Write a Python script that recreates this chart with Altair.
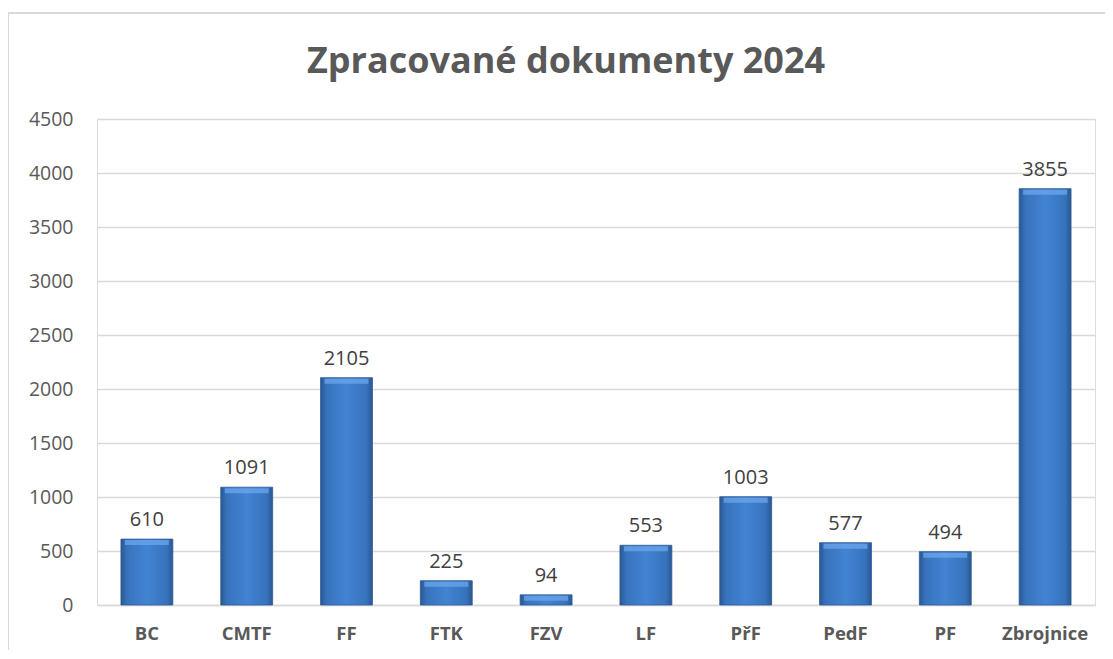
import altair as alt
import pandas as pd

categories = ["BC", "CMTF", "FF", "FTK", "FZV", "LF", "PřF", "PedF", "PF", "Zbrojnice"]
values = [610, 1091, 2105, 225, 94, 553, 1003, 577, 494, 3855]
y_ticks = [0, 500, 1000, 1500, 2000, 2500, 3000, 3500, 4000, 4500]
title_text = "Zpracované dokumenty 2024"

df = pd.DataFrame({"cat": categories, "val": values})

W, H = 998, 486
gray = "#595959"

x_enc = alt.X("cat:N", sort=categories, title=None,
              scale=alt.Scale(paddingInner=0.48, paddingOuter=0.24),
              axis=alt.Axis(labelAngle=0, labelFontSize=18.5, labelFontWeight="bold",
                            labelColor=gray, labelFont="Open Sans", labelPadding=19,
                            ticks=False, domainColor="#D9D9D9", domainWidth=1.3,
                            grid=False))
y_enc = alt.Y("val:Q", title=None,
              scale=alt.Scale(domain=[0, 4500], nice=False),
              axis=alt.Axis(values=y_ticks, format="d", labelFontSize=19.5, labelColor=gray,
                            labelFont="Open Sans", labelPadding=24, ticks=False,
                            domain=False, gridColor="#D9D9D9", gridWidth=1.3,
                            labelFontWeight="normal"))

grad = alt.Gradient(
    gradient="linear", x1=0, x2=1, y1=0, y2=0,
    stops=[alt.GradientStop(color="#2A5893", offset=0),
           alt.GradientStop(color="#3873BD", offset=0.12),
           alt.GradientStop(color="#4283D3", offset=0.5),
           alt.GradientStop(color="#3873BD", offset=0.88),
           alt.GradientStop(color="#2A5893", offset=1)])

bars = alt.Chart(df).mark_bar(fill=grad, stroke="#2C5A92", strokeWidth=0.8).encode(
    x=x_enc, y=y_enc)

bevel = alt.Chart(df).mark_tick(color="#6CA7EC", thickness=5, size=44, yOffset=3.5,
                                opacity=0.75).encode(
    x=alt.X("cat:N", sort=categories), y=alt.Y("val:Q"))

labels = alt.Chart(df).mark_text(fontSize=20, color="#404040", font="Open Sans",
                                 baseline="bottom", dy=-9).encode(
    x=alt.X("cat:N", sort=categories), y=alt.Y("val:Q"), text="val:Q")

title = alt.Chart(pd.DataFrame({"t": [title_text]})).mark_text(
    fontSize=36, font="Open Sans", fontWeight="bold", color=gray,
    align="center", baseline="middle").encode(
    x=alt.value(469), y=alt.value(-57), text="t:N")

frame_top = alt.Chart(df).mark_rule(color="#D9D9D9", strokeWidth=1.5).encode(
    x=alt.value(-89), x2=alt.value(1020), y=alt.value(-106))
frame_left = alt.Chart(df).mark_rule(color="#D9D9D9", strokeWidth=1.5).encode(
    x=alt.value(-89), y=alt.value(-106), y2=alt.value(600))

chart = alt.layer(frame_top, frame_left, title, bars, bevel, labels).properties(
    width=W, height=H,
    autosize=alt.AutoSizeParams(type="none"),
    padding={"left": 89, "top": 111, "right": 10, "bottom": 45},
).configure_view(stroke=None).configure(background="white")

chart.save("out.html", embed_options={"renderer": "svg", "actions": False})
